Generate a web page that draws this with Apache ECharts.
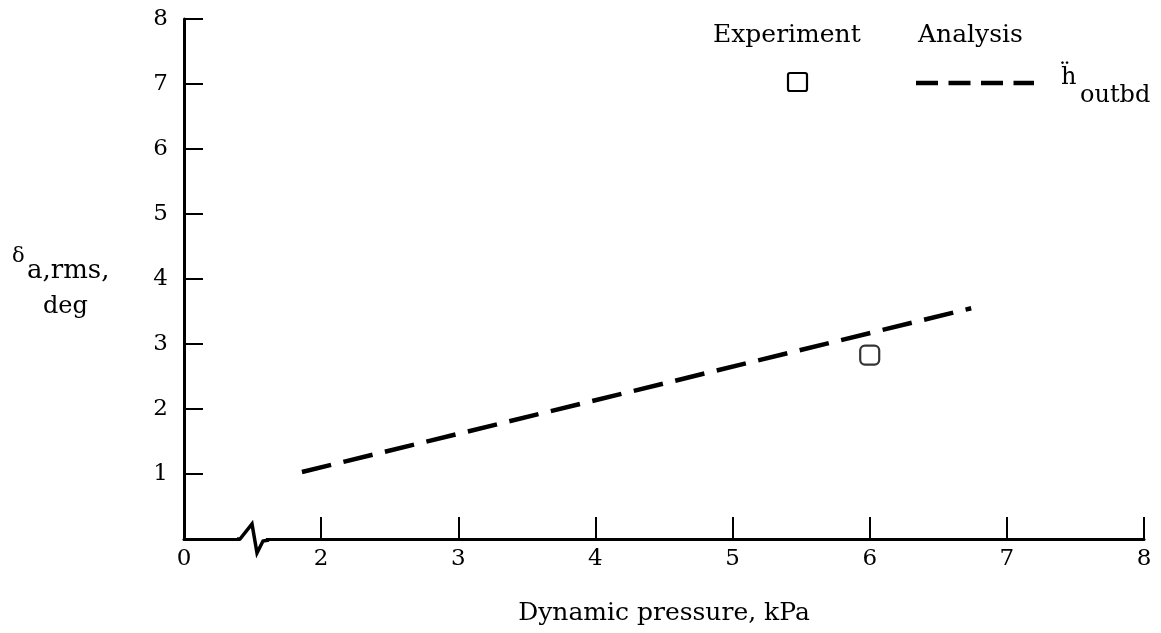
<!DOCTYPE html>
<html><head><meta charset="utf-8">
<script src="https://cdn.jsdelivr.net/npm/echarts@6/dist/echarts.min.js"></script>
<style>html,body{margin:0;padding:0;background:#fff}#c{width:1161px;height:633px}</style>
</head><body><div id="c"></div>
<script>
// Data
const xTickValues = [1, 2, 3, 4, 5, 6, 7, 8];
const xTickLabels = ['0', '2', '3', '4', '5', '6', '7', '8'];
const yTickValues = [1, 2, 3, 4, 5, 6, 7, 8];
const experiment = [[6.0, 2.83]];
const analysisOutbd = [[1.86, 1.03], [6.74, 3.55]];

const FONT = '"DejaVu Serif", "Liberation Serif", serif';
const chart = echarts.init(document.getElementById('c'), null, {renderer: 'canvas'});
const option = {
  animation: false,
  backgroundColor: '#fff',
  grid: {left: 184, right: 17, top: 19, bottom: 94, containLabel: false},
  xAxis: {
    type: 'value', min: 1, max: 8,
    axisLine: {show: true, onZero: false, lineStyle: {color: '#000', width: 3}},
    axisTick: {show: true, inside: true, length: 22, lineStyle: {color: '#000', width: 2}, customValues: [2, 3, 4, 5, 6, 7, 8]},
    axisLabel: {show: true, customValues: xTickValues, margin: 9, color: '#000', fontFamily: FONT, fontSize: 23,
      formatter: v => xTickLabels[xTickValues.indexOf(Math.round(v))]},
    splitLine: {show: false},
    name: 'Dynamic pressure, kPa', nameLocation: 'middle', nameGap: 62,
    nameTextStyle: {color: '#000', fontFamily: FONT, fontSize: 25}
  },
  yAxis: {
    type: 'value', min: 0, max: 8, interval: 1,
    axisLine: {show: true, onZero: false, lineStyle: {color: '#000', width: 3}},
    axisTick: {show: true, inside: true, length: 19, lineStyle: {color: '#000', width: 2}, customValues: yTickValues},
    axisLabel: {show: true, customValues: yTickValues, margin: 16, color: '#000', fontFamily: FONT, fontSize: 23},
    splitLine: {show: false}
  },
  series: [
    {
      name: 'Analysis', type: 'line', data: analysisOutbd, showSymbol: false, symbol: 'none',
      lineStyle: {color: '#000', width: 4.5, type: [30, 12.7]}, z: 3
    },
    {
      name: 'Experiment', type: 'scatter', data: experiment, symbol: 'roundRect', symbolSize: 19,
      itemStyle: {color: '#fff', borderColor: '#000', borderWidth: 2.2}, z: 4
    }
  ]
};
chart.setOption(option);

// Decorations: axis break, y-axis title, legend
const p0 = chart.convertToPixel({gridIndex: 0}, [1, 0]);
const bx = p0[0] + 69, by = p0[1];
chart.setOption({
  graphic: [
    {type: 'rect', shape: {x: bx - 13, y: by - 3, width: 26, height: 6}, style: {fill: '#fff'}, z: 10},
    {type: 'polyline', shape: {points: [[bx - 16, by], [bx - 13, by], [bx - 1, by - 15], [bx + 4, by + 14], [bx + 10, by + 2], [bx + 16, by + 1]]},
      style: {stroke: '#000', lineWidth: 3.5, fill: null, lineJoin: 'miter'}, z: 11},
    {type: 'text', left: 12, top: 246, style: {text: 'δ', fill: '#000', font: '21px ' + FONT}},
    {type: 'text', left: 27, top: 258, style: {text: 'a,rms,', fill: '#000', font: '26px ' + FONT}},
    {type: 'text', left: 43, top: 295, style: {text: 'deg', fill: '#000', font: '24px ' + FONT}},
    {type: 'text', left: 713, top: 23, style: {text: 'Experiment', fill: '#000', font: '25px ' + FONT}},
    {type: 'text', left: 918, top: 23, style: {text: 'Analysis', fill: '#000', font: '25px ' + FONT}},
    {type: 'rect', shape: {x: 788, y: 73, width: 19, height: 18, r: 2}, style: {fill: '#fff', stroke: '#000', lineWidth: 2.2}},
    {type: 'line', shape: {x1: 916, y1: 83, x2: 1034, y2: 83}, style: {stroke: '#000', lineWidth: 4.5, lineDash: [22, 10.5]}},
    {type: 'text', left: 1061, top: 66, style: {text: 'ḧ', fill: '#000', font: '24px ' + FONT}},
    {type: 'text', left: 1080, top: 84, style: {text: 'outbd', fill: '#000', font: '24px ' + FONT}}
  ]
});
</script></body></html>
